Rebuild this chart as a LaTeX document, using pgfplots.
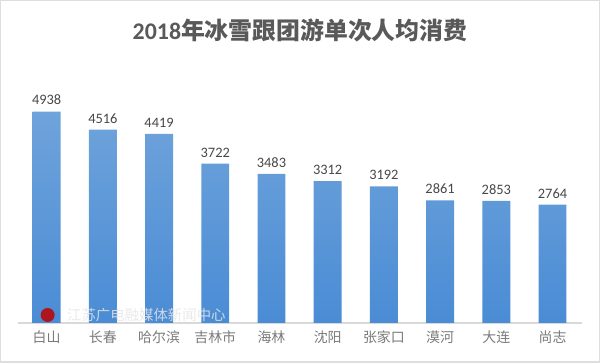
\documentclass[border=0pt]{standalone}
\usepackage{pgfplots}
\pgfplotsset{compat=1.18}
\usepackage{fontspec}
\setmainfont{Carlito}
\newfontfamily\cjk{Noto Sans CJK SC}
\definecolor{barTop}{HTML}{6FA3DB}
\definecolor{barBot}{HTML}{4A8CD5}
\definecolor{txt}{HTML}{595959}
\begin{document}
\begin{tikzpicture}
\begin{axis}[
  scale only axis, width=566bp, height=236bp,
  xmin=-0.515, xmax=9.53, ymin=0, ymax=5500,
  axis x line*=bottom, axis y line=none,
  x axis line style={draw=black!15, line width=1.2bp, -},
  ybar, bar width=28bp,
  xtick=data,
  xticklabels={白山,长春,哈尔滨,吉林市,海林,沈阳,张家口,漠河,大连,尚志},
  xticklabel style={font=\cjk\fontsize{14}{16}\selectfont, text=txt!80, yshift=-4bp},
  major tick length=0pt,
  /pgf/number format/assume math mode=true,
  /pgf/number format/1000 sep={},
  nodes near coords,
  nodes near coords style={font=\fontsize{14.5}{16}\selectfont, text=black!72, yshift=3bp},
  clip=false,
]
\addplot[draw=none, top color=barTop, bottom color=barBot] coordinates {
  (0,4938) (1,4516) (2,4419) (3,3722) (4,3483) (5,3312) (6,3192) (7,2861) (8,2853) (9,2764)
};
\draw[black!13, line width=1.5bp] ([xshift=-17bp,yshift=-39bp]rel axis cs:0,0) rectangle ([xshift=17bp,yshift=87bp]rel axis cs:1,1);
\node[font=\bfseries\fontsize{24}{28}\selectfont, text=txt] at ([yshift=57bp]rel axis cs:0.5,1) {2018{\cjk 年冰雪跟团游单次人均消费}};
\fill[red!75!black, opacity=0.85] ([xshift=30bp,yshift=8bp]rel axis cs:0,0) circle (7bp);
\node[anchor=west, font=\cjk\fontsize{14.5}{16}\selectfont, text=black!10, opacity=0.85] at ([xshift=46bp,yshift=8bp]rel axis cs:0,0) {江苏广电融媒体新闻中心};
\end{axis}
\end{tikzpicture}
\end{document}
